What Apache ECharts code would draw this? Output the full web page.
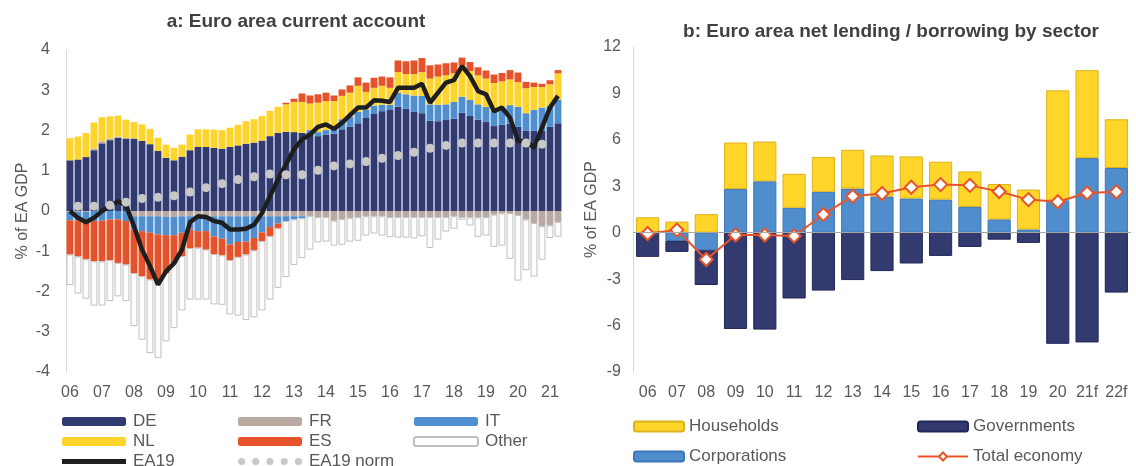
<!DOCTYPE html>
<html><head><meta charset="utf-8">
<script src="https://cdn.jsdelivr.net/npm/echarts@6/dist/echarts.min.js"></script>
<style>html,body{margin:0;padding:0;background:#fff}#c{width:1136px;height:466px}</style>
</head><body><div id="c"></div>
<script>
// ---------- Panel a: quarterly, 2006Q1 - 2021Q2 ----------
const yearLabels = ['06','07','08','09','10','11','12','13','14','15','16','17','18','19','20','21'];
const quarterCount = 62;

const DE = [1.26,1.28,1.34,1.51,1.68,1.76,1.82,1.80,1.80,1.74,1.66,1.49,1.32,1.26,1.35,1.51,
  1.59,1.59,1.57,1.55,1.59,1.63,1.67,1.70,1.75,1.86,1.94,1.97,1.96,1.94,1.93,1.86,
  1.90,1.92,2.03,2.09,2.18,2.31,2.41,2.48,2.51,2.59,2.54,2.46,2.43,2.24,2.23,2.26,
  2.29,2.44,2.36,2.27,2.21,2.11,2.14,2.17,2.09,1.99,1.99,1.99,2.09,2.18];
const FR = [-0.02,-0.02,-0.02,0.04,0.05,0.04,0.03,0.01,-0.13,-0.13,-0.13,-0.13,-0.15,-0.15,-0.13,-0.13,
  -0.13,-0.13,-0.13,-0.13,-0.13,-0.13,-0.13,-0.13,-0.13,-0.13,-0.13,-0.13,-0.13,-0.13,-0.13,-0.15,
  -0.15,-0.24,-0.20,-0.17,-0.15,-0.13,-0.13,-0.13,-0.15,-0.15,-0.15,-0.15,-0.15,-0.15,-0.15,-0.15,
  -0.13,-0.15,-0.16,-0.16,-0.15,-0.09,-0.06,-0.05,-0.10,-0.21,-0.30,-0.38,-0.36,-0.27];
const IT = [-0.21,-0.21,-0.25,-0.25,-0.24,-0.21,-0.21,-0.25,-0.33,-0.37,-0.41,-0.45,-0.45,-0.45,-0.41,-0.33,
  -0.37,-0.37,-0.50,-0.56,-0.70,-0.64,-0.63,-0.54,-0.40,-0.27,-0.18,-0.12,-0.08,-0.05,0.08,0.10,
  0.11,0.11,0.25,0.25,0.28,0.21,0.21,0.16,0.13,0.35,0.36,0.41,0.43,0.41,0.41,0.39,
  0.42,0.40,0.40,0.38,0.38,0.37,0.37,0.46,0.50,0.44,0.52,0.58,0.52,0.59];
const NL = [0.55,0.57,0.60,0.65,0.60,0.55,0.52,0.46,0.41,0.41,0.38,0.33,0.33,0.31,0.30,0.39,
  0.44,0.44,0.45,0.46,0.48,0.51,0.56,0.58,0.61,0.63,0.65,0.68,0.75,0.77,0.66,0.73,
  0.72,0.70,0.58,0.60,0.65,0.44,0.44,0.47,0.42,0.51,0.50,0.53,0.59,0.64,0.70,0.72,
  0.71,0.78,0.72,0.72,0.70,0.70,0.71,0.64,0.61,0.62,0.57,0.51,0.54,0.65];
const ES = [-0.85,-0.90,-0.93,-1.00,-1.01,-1.01,-1.08,-1.08,-1.08,-1.12,-1.16,-1.17,-0.94,-0.69,-0.58,-0.46,
  -0.41,-0.46,-0.44,-0.41,-0.39,-0.37,-0.32,-0.31,-0.22,-0.22,-0.12,0.04,0.08,0.21,0.20,0.21,
  0.21,0.14,0.16,0.18,0.21,0.23,0.25,0.23,0.26,0.29,0.32,0.34,0.35,0.33,0.30,0.30,
  0.27,0.19,0.22,0.20,0.20,0.21,0.21,0.23,0.24,0.16,0.11,0.08,0.10,0.08];
const OTHER = [-0.76,-0.92,-0.98,-1.10,-1.10,-1.02,-0.83,-0.91,-1.32,-1.58,-1.83,-1.90,-1.70,-1.62,-1.35,-1.28,
  -1.29,-1.24,-1.25,-1.23,-1.35,-1.46,-1.63,-1.66,-1.72,-1.58,-1.48,-1.39,-1.13,-0.99,-0.83,-0.63,
  -0.61,-0.62,-0.64,-0.59,-0.59,-0.48,-0.43,-0.48,-0.50,-0.51,-0.51,-0.53,-0.48,-0.77,-0.56,-0.36,
  -0.31,-0.07,-0.20,-0.48,-0.46,-0.80,-0.80,-1.14,-1.63,-1.26,-1.33,-0.83,-0.31,-0.37];
const EA19 = [0.00,-0.17,-0.28,-0.17,0.00,0.12,0.24,0.14,-0.38,-0.96,-1.37,-1.83,-1.50,-1.30,-0.96,-0.28,
  -0.13,-0.15,-0.25,-0.29,-0.46,-0.46,-0.44,-0.34,-0.05,0.37,0.78,1.16,1.53,1.78,1.90,2.09,
  2.15,2.04,2.19,2.38,2.57,2.57,2.75,2.74,2.71,3.06,3.06,3.06,3.16,2.69,2.94,3.19,
  3.25,3.60,3.35,2.98,2.90,2.48,2.57,2.32,1.74,1.74,1.57,2.07,2.57,2.86];
// EA19 norm: half-yearly points (Q2 and Q4 of each year)
const EA19_NORM = [0.12,0.12,0.14,0.22,0.31,0.34,0.38,0.47,0.58,0.68,0.78,0.85,0.92,0.90,0.90,
  1.01,1.12,1.17,1.23,1.31,1.38,1.46,1.56,1.63,1.69,1.69,1.69,1.69,1.69,1.66];

// ---------- Panel b: annual ----------
const yearsB = ['06','07','08','09','10','11','12','13','14','15','16','17','18','19','20','21f','22f'];
const CORP = [0.00,-0.53,-1.13,2.83,3.32,1.61,2.64,2.85,2.34,2.21,2.14,1.67,0.86,0.21,2.10,4.82,4.18];
const HH   = [1.00,0.72,1.20,3.00,2.57,2.20,2.25,2.51,2.65,2.72,2.45,2.29,2.29,2.58,7.10,5.68,3.15];
const GOV  = [-1.56,-0.71,-2.25,-6.22,-6.26,-4.25,-3.74,-3.06,-2.48,-1.99,-1.50,-0.92,-0.45,-0.66,-7.18,-7.09,-3.87];
const TOTAL= [-0.05,0.18,-1.73,-0.15,-0.15,-0.21,1.18,2.36,2.53,2.94,3.11,3.06,2.66,2.14,2.00,2.57,2.64];

// build quarterly categories
const quarters = [];
for (let y = 0; y < yearLabels.length; y++) {
  for (let q = 1; q <= 4; q++) {
    if (quarters.length < quarterCount) quarters.push(yearLabels[y] + ' Q' + q);
  }
}
const normData = quarters.map(() => null);
EA19_NORM.forEach((v, k) => { normData[2 * k + 1] = v; });

const FONT = 'Liberation Sans, Arial, sans-serif';
const TXT = '#595959';

function barA(name, data, color, border) {
  return {
    name, type: 'bar', xAxisIndex: 0, yAxisIndex: 0, stack: 'a', data,
    barCategoryGap: '14%',
    itemStyle: { color, borderColor: border || color, borderWidth: border ? 1 : 0 }
  };
}
function barB(name, data, color, border) {
  return {
    name, type: 'bar', xAxisIndex: 1, yAxisIndex: 1, stack: 'b', data,
    barCategoryGap: '21%',
    itemStyle: { color, borderColor: border, borderWidth: 1 }
  };
}

const chart = echarts.init(document.getElementById('c'), null, { renderer: 'canvas' });
const lineIcon = 'path://M0,0H64V5H0Z';
const dotsIcon = 'path://M0,3a3,3 0 1,0 6,0a3,3 0 1,0 -6,0M12,3a3,3 0 1,0 6,0a3,3 0 1,0 -6,0M24,3a3,3 0 1,0 6,0a3,3 0 1,0 -6,0M36,3a3,3 0 1,0 6,0a3,3 0 1,0 -6,0M48,3a3,3 0 1,0 6,0a3,3 0 1,0 -6,0';

const legendA = (left, data) => ({
  orient: 'vertical', left, top: 413, height: 90, width: 170, padding: 0,
  itemWidth: 64, itemHeight: 9, itemGap: 3,
  symbolKeepAspect: true, selectedMode: false,
  textStyle: { fontFamily: FONT, fontSize: 17, color: TXT, padding: [0, 0, 0, 2] }, data
});
const legendB = (left, data) => ({
  orient: 'vertical', left, top: 418, height: 90, width: 250, padding: 0,
  itemWidth: 50, itemHeight: 10, itemGap: 13,
  selectedMode: false,
  textStyle: { fontFamily: FONT, fontSize: 17, color: TXT }, data
});

chart.setOption({
  animation: false,
  backgroundColor: '#ffffff',
  title: [
    { text: 'a: Euro area current account', left: 291, top: 7, textAlign: 'center',
      textStyle: { fontFamily: FONT, fontSize: 19, fontWeight: 'bold', color: '#404040' } },
    { text: 'b: Euro area net lending / borrowing by sector', left: 886, top: 17, textAlign: 'center',
      textStyle: { fontFamily: FONT, fontSize: 19, fontWeight: 'bold', color: '#404040' } }
  ],
  legend: [
    legendA(62, ['DE', 'NL', { name: 'EA19', icon: lineIcon }]),
    legendA(238, ['FR', 'ES', { name: 'EA19 norm', icon: dotsIcon }]),
    legendA(413, ['IT', 'Other']),
    legendB(633, ['Households', 'Corporations']),
    legendB(917, ['Governments', 'Total economy'])
  ],
  grid: [
    { left: 66, right: 574, top: 50, bottom: 94 },
    { left: 633, right: 5, top: 47, bottom: 94 }
  ],
  xAxis: [
    { type: 'category', gridIndex: 0, data: quarters,
      axisLine: { show: false }, axisTick: { show: false },
      axisLabel: { interval: 3, margin: 13, color: TXT, fontFamily: FONT, fontSize: 16,
        formatter: v => v.slice(0, 2) } },
    { type: 'category', gridIndex: 1, data: yearsB,
      axisLine: { show: false }, axisTick: { show: false },
      axisLabel: { interval: 0, margin: 13, color: TXT, fontFamily: FONT, fontSize: 16 } }
  ],
  yAxis: [
    { type: 'value', gridIndex: 0, min: -4, max: 4, interval: 1,
      name: '% of EA GDP', nameLocation: 'middle', nameGap: 35,
      nameTextStyle: { color: TXT, fontFamily: FONT, fontSize: 16 },
      axisLine: { show: true, lineStyle: { color: '#d9d9d9' } }, axisTick: { show: false },
      splitLine: { show: false },
      axisLabel: { margin: 16, color: TXT, fontFamily: FONT, fontSize: 16 } },
    { type: 'value', gridIndex: 1, min: -9, max: 12, interval: 3,
      name: '% of EA GDP', nameLocation: 'middle', nameGap: 32,
      nameTextStyle: { color: TXT, fontFamily: FONT, fontSize: 16 },
      axisLine: { show: true, lineStyle: { color: '#d9d9d9' } }, axisTick: { show: false },
      splitLine: { show: false },
      axisLabel: { margin: 12, color: TXT, fontFamily: FONT, fontSize: 16 } }
  ],
  series: [
    barA('DE', DE, '#313b72'),
    barA('FR', FR, '#b8aaa1'),
    barA('IT', IT, '#4f8fd0'),
    barA('NL', NL, '#ffd42a'),
    barA('ES', ES, '#e6532a'),
    barA('Other', OTHER, '#ffffff', '#bfbfbf'),
    { name: 'EA19 norm', type: 'line', xAxisIndex: 0, yAxisIndex: 0, data: normData,
      symbol: 'circle', symbolSize: 9, showAllSymbol: true, connectNulls: false,
      itemStyle: { color: '#c8c8c8' }, lineStyle: { opacity: 0, width: 0 } },
    { name: 'EA19', type: 'line', xAxisIndex: 0, yAxisIndex: 0, data: EA19,
      symbol: 'none', itemStyle: { color: '#1e1e1e' }, lineStyle: { color: '#1e1e1e', width: 4.5 } },

    barB('Corporations', CORP, '#4f8dcd', '#3f76b5'),
    barB('Households', HH, '#ffd52a', '#dcb21c'),
    Object.assign(barB('Governments', GOV, '#333a70', '#222755'), {
      markLine: { silent: true, symbol: ['none', 'none'], label: { show: false },
        lineStyle: { color: '#a6a6a6', width: 1, type: 'solid' }, data: [{ yAxis: 0 }] }
    }),
    { name: 'Total economy', type: 'line', xAxisIndex: 1, yAxisIndex: 1, data: TOTAL,
      symbol: 'diamond', symbolSize: 13,
      itemStyle: { color: '#ffffff', borderColor: '#e8542a', borderWidth: 2 },
      lineStyle: { color: '#e8542a', width: 2 } }
  ]
});
</script>
</body></html>
